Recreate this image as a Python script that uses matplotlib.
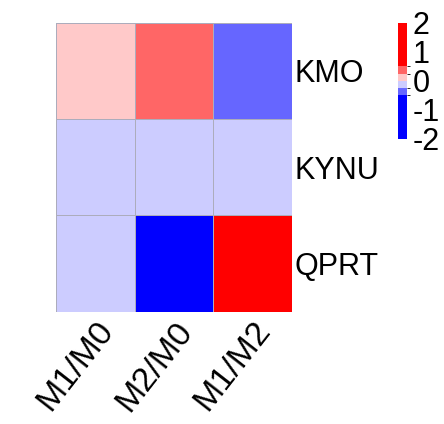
import numpy as np
import matplotlib
matplotlib.use("Agg")
import matplotlib.pyplot as plt
from matplotlib.colors import ListedColormap, BoundaryNorm

genes = ["KMO", "KYNU", "QPRT"]
comparisons = ["M1/M0", "M2/M0", "M1/M2"]
kmo = [0.15, 0.40, -0.40]
kynu = [-0.10, -0.10, -0.10]
qprt = [-0.10, -1.50, 1.50]
breaks = [-2, -0.5, -0.25, 0, 0.25, 0.5, 2]
colors = ["#0000FF", "#6666FF", "#CCCCFF", "#FFC9C9", "#FF6666", "#FF0000"]
legend_ticks = [2, 1, 0, -1, -2]

plt.rcParams['font.family'] = ['Liberation Sans', 'DejaVu Sans']

W, H = 444, 424
fig = plt.figure(figsize=(W / 100, H / 100), dpi=100)

def fa(x0, y0, x1, y1):
    return fig.add_axes([x0 / W, 1 - y1 / H, (x1 - x0) / W, (y1 - y0) / H])

ax = fa(56, 22.7, 292, 311.7)
data = np.array([kmo, kynu, qprt])
cmap = ListedColormap(colors)
norm = BoundaryNorm(breaks, cmap.N)
mesh = ax.pcolormesh(data, cmap=cmap, norm=norm, edgecolors="#ACACBC", linewidth=0.5)
ax.set_xlim(0, 3)
ax.set_ylim(3, 0)
for s in ax.spines.values():
    s.set_visible(False)
ax.set_xticks(np.arange(len(comparisons)) + 0.5)
ax.set_xticklabels(comparisons, rotation=52, ha="right", va="top",
                   rotation_mode="anchor", fontsize=24.5)
ax.set_yticks(np.arange(len(genes)) + 0.5)
ax.set_yticklabels(genes, fontsize=22)
ax.yaxis.tick_right()
ax.tick_params(length=0, pad=2)
ax.tick_params(axis="x", pad=3)

cax = fa(398, 22.7, 407, 139)
cb = fig.colorbar(mesh, cax=cax, spacing="proportional", ticks=legend_ticks)
cb.outline.set_visible(False)
cax.tick_params(length=0, labelsize=22, pad=4)
cax.set_yticklabels([str(t) for t in legend_ticks])

fig.savefig("out.png", dpi=100)
